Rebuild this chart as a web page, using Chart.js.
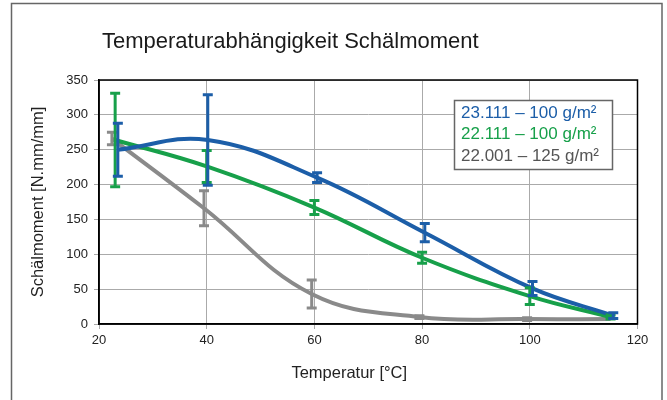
<!DOCTYPE html>
<html>
<head>
<meta charset="utf-8">
<script src="https://cdn.jsdelivr.net/npm/chart.js@4.4.1/dist/chart.umd.min.js"></script>
<style>
  html, body { margin: 0; padding: 0; background: #fff; }
  #wrap { width: 667px; height: 400px; }
</style>
</head>
<body>
<div id="wrap"><canvas id="chart" width="667" height="400"></canvas></div>
<script>
const chartTitle = 'Temperaturabhängigkeit Schälmoment';
const xTitle = 'Temperatur [°C]';
const yTitle = 'Schälmoment [N.mm/mm]';

const seriesNames = ['23.111 – 100 g/m²', '22.111 – 100 g/m²', '22.001 – 125 g/m²'];
const seriesColors = ['#1c5ea8', '#17a04a', '#8a8a8a'];
const legendTextColors = ['#1c5ea8', '#17a04a', '#555555'];

// 23.111 - 100 g/m2
const temp23111 = [23.5, 40.2, 60.5, 80.5, 100.5, 115.5];
const moment23111 = [250, 264, 210, 131, 51, 12];
const err23111 = [38, 65, 7, 13, 10, 4];

// 22.111 - 100 g/m2
const temp22111 = [23, 40, 60, 80, 100, 115];
const moment22111 = [264, 226, 167, 95, 40, 10];
const err22111 = [67, 23, 10, 8, 12, 3];

// 22.001 - 125 g/m2
const temp22001 = [22.4, 39.5, 59.5, 79.5, 99.5, 115];
const moment22001 = [266, 166, 43, 10, 7, 7];
const err22001 = [9, 25, 20, 2, 2, 0];

const xMin = 20, xMax = 120, xStep = 20;
const yMin = 0, yMax = 350, yStep = 50;

const FONT = "'Liberation Sans', Arial, sans-serif";

function points(xs, ys) {
  return xs.map((x, i) => ({ x: x, y: ys[i] }));
}

function makeSet(i, xs, ys, errs) {
  return {
    label: seriesNames[i],
    data: points(xs, ys),
    errors: errs,
    borderColor: seriesColors[i],
    borderWidth: 4,
    pointRadius: 0,
    tension: 0.4,
    fill: false
  };
}

// frame, title, plot border, x title
const decorations = {
  id: 'decorations',
  beforeDraw(chart) {
    const ctx = chart.ctx;
    ctx.save();
    ctx.fillStyle = '#fff';
    ctx.fillRect(0, 0, chart.width, chart.height);
    ctx.strokeStyle = '#666';
    ctx.lineWidth = 1.5;
    ctx.strokeRect(11.5, 3.5, 650.5, 420);
    ctx.fillStyle = '#1a1a1a';
    ctx.font = '22px ' + FONT;
    ctx.textBaseline = 'middle';
    ctx.textAlign = 'left';
    ctx.fillText(chartTitle, 102, 42);
    ctx.fillStyle = '#222';
    ctx.font = '16.5px ' + FONT;
    ctx.textAlign = 'center';
    const a = chart.chartArea;
    ctx.fillText(xTitle, (a.left + a.right) / 2 - 19, 373);
    ctx.restore();
  },
  beforeDatasetsDraw(chart) {
    const ctx = chart.ctx, a = chart.chartArea;
    ctx.save();
    ctx.strokeStyle = '#000';
    ctx.lineWidth = 1.5;
    ctx.strokeRect(a.left, a.top, a.right - a.left, a.bottom - a.top);
    ctx.restore();
  }
};

// vertical error bars from each dataset's errors array
const errorBars = {
  id: 'errorBars',
  afterDatasetsDraw(chart) {
    const ctx = chart.ctx;
    const xs = chart.scales.x, ys = chart.scales.y;
    ctx.save();
    ctx.lineWidth = 3;
    for (let d = chart.data.datasets.length - 1; d >= 0; d--) {
      const ds = chart.data.datasets[d];
      ctx.strokeStyle = ds.borderColor;
      ds.data.forEach((p, i) => {
        const e = ds.errors[i];
        if (!e) return;
        const px = xs.getPixelForValue(p.x);
        const top = ys.getPixelForValue(p.y + e);
        const bot = ys.getPixelForValue(p.y - e);
        ctx.beginPath();
        ctx.moveTo(px, top); ctx.lineTo(px, bot);
        ctx.moveTo(px - 5, top); ctx.lineTo(px + 5, top);
        ctx.moveTo(px - 5, bot); ctx.lineTo(px + 5, bot);
        ctx.stroke();
      });
    }
    ctx.restore();
  }
};

// boxed legend inside the plot, text coloured per series
const boxLegend = {
  id: 'boxLegend',
  afterDraw(chart) {
    const ctx = chart.ctx;
    ctx.save();
    ctx.fillStyle = '#fff';
    ctx.fillRect(454.5, 100.5, 158, 69);
    ctx.strokeStyle = '#666';
    ctx.lineWidth = 1.5;
    ctx.strokeRect(454.5, 100.5, 158, 69);
    ctx.font = '17px ' + FONT;
    ctx.textBaseline = 'middle';
    ctx.textAlign = 'left';
    chart.data.datasets.forEach((ds, i) => {
      ctx.fillStyle = legendTextColors[i];
      ctx.fillText(ds.label, 461, 113 + i * 21.5);
    });
    ctx.restore();
  }
};

new Chart(document.getElementById('chart'), {
  type: 'line',
  data: {
    datasets: [
      makeSet(0, temp23111, moment23111, err23111),
      makeSet(1, temp22111, moment22111, err22111),
      makeSet(2, temp22001, moment22001, err22001)
    ]
  },
  options: {
    responsive: false,
    animation: false,
    layout: { padding: { top: 80, right: 29.5, bottom: 0, left: 0 } },
    plugins: {
      legend: { display: false },
      tooltip: { enabled: false }
    },
    scales: {
      x: {
        type: 'linear',
        min: xMin, max: xMax,
        ticks: { stepSize: xStep, color: '#222', font: { family: FONT, size: 13 }, padding: 4, maxRotation: 0 },
        grid: { color: '#aaaaaa', lineWidth: 1, tickLength: 5 },
        border: { color: '#000', width: 1.5 },
        afterFit(scale) { scale.height = 76; }
      },
      y: {
        min: yMin, max: yMax,
        ticks: { stepSize: yStep, color: '#222', font: { family: FONT, size: 13 }, padding: 6 },
        grid: { color: '#aaaaaa', lineWidth: 1, tickLength: 5 },
        border: { color: '#000', width: 1.5 },
        title: { display: true, text: yTitle, color: '#222', font: { family: FONT, size: 16.5 }, padding: { top: 29, bottom: 0 } },
        afterFit(scale) { scale.width = 99; }
      }
    }
  },
  plugins: [decorations, errorBars, boxLegend]
});
</script>
</body>
</html>
